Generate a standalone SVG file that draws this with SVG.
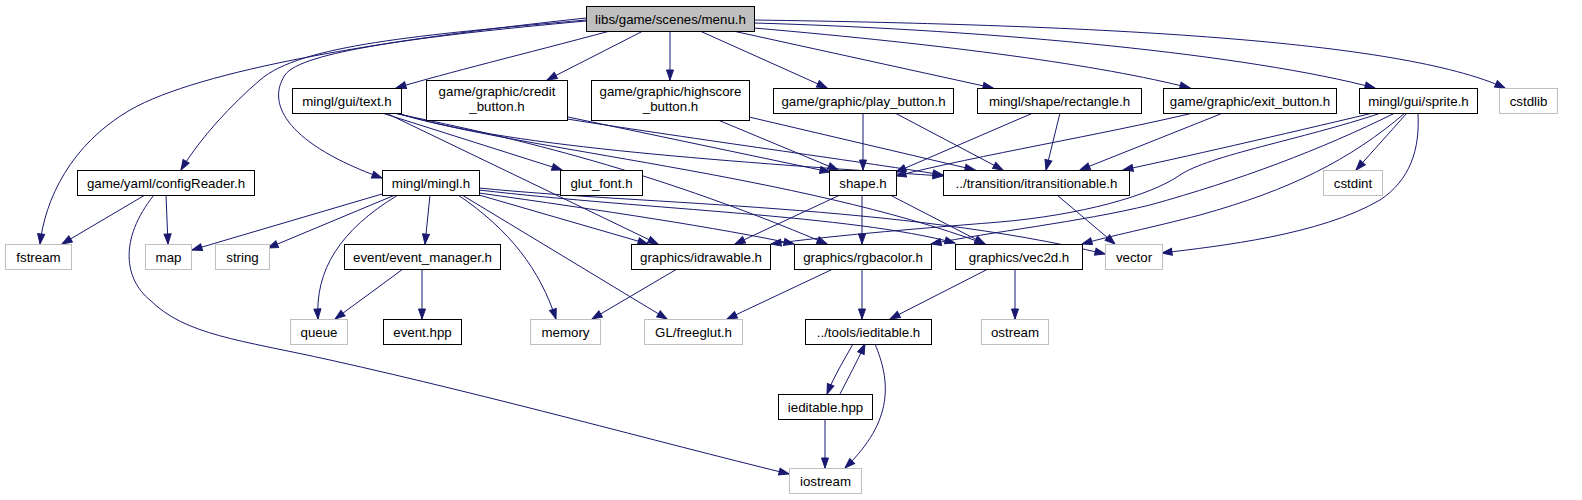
<svg xmlns="http://www.w3.org/2000/svg" width="1582" height="500" viewBox="0 0 1582 500">
<style>
.n rect{fill:#fff;stroke:#000;stroke-width:1}
.s rect{fill:#fff;stroke:#bfbfbf;stroke-width:1}
.r rect{fill:#bfbfbf;stroke:#000;stroke-width:1}
text{font-family:"Liberation Sans",Arial,sans-serif;font-size:13.3px;text-anchor:middle;fill:#000}
#edges path{fill:none;stroke:#191970;stroke-width:1;marker-end:url(#a)}
</style>
<defs>
<marker id="a" markerUnits="userSpaceOnUse" markerWidth="11" markerHeight="8" refX="10" refY="3.5" orient="auto" overflow="visible">
<path d="M0,0 L10,3.5 L0,7 z" fill="#191970" stroke="#191970"/>
</marker>
</defs>
<rect width="1582" height="500" fill="#fff"/>
<g id="edges">
<path d="M586,18 C380,40 200,70 130,110 C70,145 45,200 40,244"/>
<path d="M586,20 C420,35 300,45 260,80 C232,104 200,138 181,170"/>
<path d="M586,21 C420,36 300,52 285,75 C265,105 290,145 382,178"/>
<path d="M610,31 C520,55 450,72 396,88"/>
<path d="M643,31 L547,80"/>
<path d="M670,31 L670,80"/>
<path d="M700,31 L827,88"/>
<path d="M733,31 L993,88"/>
<path d="M754,28 C950,45 1100,65 1190,88"/>
<path d="M754,23 C1000,30 1250,55 1375,88"/>
<path d="M754,20 C1100,25 1400,40 1505,88"/>
<path d="M382,113 L562,170"/>
<path d="M386,113 L658,244"/>
<path d="M393,113 C500,135 640,165 827,244"/>
<path d="M396,113 C520,150 800,175 985,244"/>
<path d="M397,113 C500,145 700,160 943,176"/>
<path d="M568,117 L830,172"/>
<path d="M567,119 C700,140 850,160 943,175"/>
<path d="M718,120 L838,170"/>
<path d="M749,117 L975,170"/>
<path d="M863,113 L863,170"/>
<path d="M895,113 L1003,170"/>
<path d="M1033,113 L896,172"/>
<path d="M1060,113 L1046,170"/>
<path d="M1193,113 C1100,135 980,155 896,176"/>
<path d="M1223,113 L1080,170"/>
<path d="M1373,113 C1280,135 1180,158 1123,170"/>
<path d="M1381,113 C1300,140 1210,155 1180,175 C1150,196 1080,215 1000,222 C900,230 830,236 771,244"/>
<path d="M1395,113 C1320,150 1240,180 1150,205 C1080,222 990,232 931,244"/>
<path d="M1405,113 C1350,160 1290,190 1200,215 C1150,228 1110,236 1082,244"/>
<path d="M1407,113 L1356,170"/>
<path d="M1418,113 C1420,150 1410,180 1380,200 C1320,235 1220,246 1162,253"/>
<path d="M382,194 L192,250"/>
<path d="M395,195 L268,248"/>
<path d="M398,195 C340,230 315,270 318,319"/>
<path d="M430,195 L425,244"/>
<path d="M458,195 C510,230 540,270 556,319"/>
<path d="M462,195 L667,319"/>
<path d="M479,195 L648,244"/>
<path d="M479,193 C600,210 720,228 794,244"/>
<path d="M479,190 C650,210 850,215 955,243"/>
<path d="M479,188 C650,205 900,205 1105,254"/>
<path d="M840,195 L735,244"/>
<path d="M862,195 L862,244"/>
<path d="M890,195 L985,244"/>
<path d="M1057,195 L1115,244"/>
<path d="M145,195 L62,244"/>
<path d="M166,195 L168,244"/>
<path d="M154,195 C118,240 125,280 150,300 C185,335 240,340 330,360 C500,398 650,440 789,474"/>
<path d="M403,269 L335,319"/>
<path d="M422,269 L422,319"/>
<path d="M677,269 L592,319"/>
<path d="M833,269 L727,319"/>
<path d="M862,269 L862,319"/>
<path d="M988,269 L890,319"/>
<path d="M1015,269 L1015,319"/>
<path d="M853,344 C843,362 834,376 827,394"/>
<path d="M840,394 C848,378 857,362 865,344"/>
<path d="M875,344 C890,380 895,420 845,468"/>
<path d="M825,419 L825,468"/>
</g>
<g id="menu" class="r"><rect x="586.5" y="6.5" width="168" height="25"/><text x="670.5" y="23.5">libs/game/scenes/menu.h</text></g>
<g id="text" class="n"><rect x="292.5" y="88.5" width="109" height="25"/><text x="347" y="105.5">mingl/gui/text.h</text></g>
<g id="credit" class="n"><rect x="426.5" y="80.5" width="141" height="40"/><text x="497" y="96">game/graphic/credit</text><text x="497" y="111">_button.h</text></g>
<g id="highscore" class="n"><rect x="591.5" y="80.5" width="158" height="40"/><text x="670.5" y="96">game/graphic/highscore</text><text x="670.5" y="111">_button.h</text></g>
<g id="play" class="n"><rect x="773.5" y="88.5" width="180" height="25"/><text x="863.5" y="105.5">game/graphic/play_button.h</text></g>
<g id="rectangle" class="n"><rect x="977.5" y="88.5" width="164" height="25"/><text x="1059.5" y="105.5">mingl/shape/rectangle.h</text></g>
<g id="exit" class="n"><rect x="1163.5" y="88.5" width="173" height="25"/><text x="1250" y="105.5">game/graphic/exit_button.h</text></g>
<g id="sprite" class="n"><rect x="1359.5" y="88.5" width="118" height="25"/><text x="1418.5" y="105.5">mingl/gui/sprite.h</text></g>
<g id="cstdlib" class="s"><rect x="1499.5" y="88.5" width="58" height="25"/><text x="1528.5" y="105.5">cstdlib</text></g>
<g id="configReader" class="n"><rect x="77.5" y="170.5" width="177" height="25"/><text x="166" y="187.5">game/yaml/configReader.h</text></g>
<g id="mingl" class="n"><rect x="382.5" y="170.5" width="97" height="25"/><text x="431" y="187.5">mingl/mingl.h</text></g>
<g id="glut_font" class="n"><rect x="560.5" y="170.5" width="82" height="25"/><text x="601.5" y="187.5">glut_font.h</text></g>
<g id="shape" class="n"><rect x="829.5" y="170.5" width="67" height="25"/><text x="863" y="187.5">shape.h</text></g>
<g id="itransitionable" class="n"><rect x="943.5" y="170.5" width="186" height="25"/><text x="1036.5" y="187.5">../transition/itransitionable.h</text></g>
<g id="cstdint" class="s"><rect x="1323.5" y="170.5" width="59" height="25"/><text x="1353" y="187.5">cstdint</text></g>
<g id="fstream" class="s"><rect x="5.5" y="244.5" width="66" height="25"/><text x="38.5" y="261.5">fstream</text></g>
<g id="map" class="s"><rect x="145.5" y="244.5" width="46" height="25"/><text x="168.5" y="261.5">map</text></g>
<g id="string" class="s"><rect x="215.5" y="244.5" width="54" height="25"/><text x="242.5" y="261.5">string</text></g>
<g id="event_manager" class="n"><rect x="344.5" y="244.5" width="156" height="25"/><text x="422.5" y="261.5">event/event_manager.h</text></g>
<g id="idrawable" class="n"><rect x="631.5" y="244.5" width="139" height="25"/><text x="701" y="261.5">graphics/idrawable.h</text></g>
<g id="rgbacolor" class="n"><rect x="794.5" y="244.5" width="137" height="25"/><text x="863" y="261.5">graphics/rgbacolor.h</text></g>
<g id="vec2d" class="n"><rect x="955.5" y="244.5" width="127" height="25"/><text x="1019" y="261.5">graphics/vec2d.h</text></g>
<g id="vector" class="s"><rect x="1105.5" y="244.5" width="57" height="25"/><text x="1134" y="261.5">vector</text></g>
<g id="queue" class="s"><rect x="290.5" y="319.5" width="57" height="25"/><text x="319" y="336.5">queue</text></g>
<g id="event_hpp" class="n"><rect x="383.5" y="319.5" width="78" height="25"/><text x="422.5" y="336.5">event.hpp</text></g>
<g id="memory" class="s"><rect x="530.5" y="319.5" width="70" height="25"/><text x="565.5" y="336.5">memory</text></g>
<g id="freeglut" class="s"><rect x="644.5" y="319.5" width="98" height="25"/><text x="693.5" y="336.5">GL/freeglut.h</text></g>
<g id="ieditable_h" class="n"><rect x="805.5" y="319.5" width="126" height="25"/><text x="868.5" y="336.5">../tools/ieditable.h</text></g>
<g id="ostream" class="s"><rect x="981.5" y="319.5" width="67" height="25"/><text x="1015" y="336.5">ostream</text></g>
<g id="ieditable_hpp" class="n"><rect x="778.5" y="394.5" width="94" height="25"/><text x="825.5" y="411.5">ieditable.hpp</text></g>
<g id="iostream" class="s"><rect x="789.5" y="468.5" width="72" height="25"/><text x="825.5" y="485.5">iostream</text></g>
</svg>
